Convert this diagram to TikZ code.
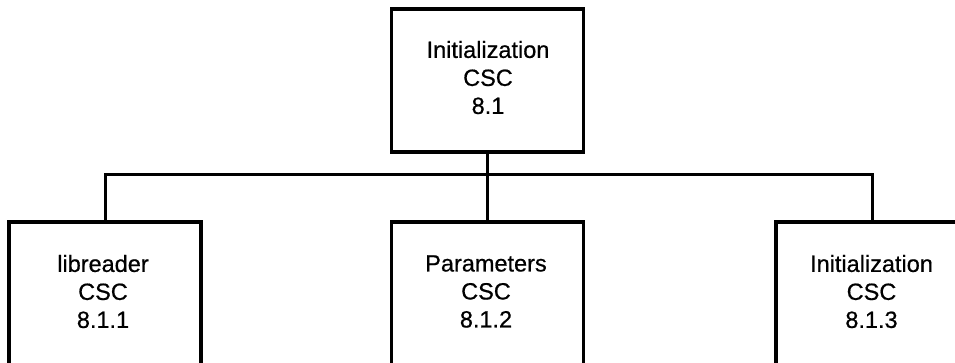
\documentclass[tikz,border=0pt]{standalone}
\usepackage{fontspec}
\setmainfont{Liberation Sans}
\newfontfamily\labelfont[FakeBold=0.6]{Liberation Sans}
\begin{document}
\begin{tikzpicture}[x=1pt,y=-1pt,
  box/.style={draw=black, line width=3.2pt, rectangle, inner sep=0pt, minimum width=192pt},
  txt/.style={align=center, inner sep=0pt, font=\labelfont\fontsize{23.5}{28}\selectfont},
  conn/.style={draw=black, line width=3pt}]
\useasboundingbox (0,0) rectangle (955,362);
\clip (0,0) rectangle (955,362);
\fill[white] (0,0) rectangle (955,362);
% boxes
\node[box, minimum height=143pt] (top) at (487.5,80.5) {};
\node[box, minimum height=200pt] (left) at (105,322) {};
\node[box, minimum height=200pt] (mid) at (487.5,322) {};
\node[box, minimum height=200pt] (right) at (872,322) {};
% texts
\node[txt] (toptxt) at (488,77.5) {Initialization\\CSC\\8.1};
\node[txt] (lefttxt) at (103,291.5) {libreader\\CSC\\8.1.1};
\node[txt] (midtxt) at (486,291.5) {Parameters\\CSC\\8.1.2};
\node[txt] (righttxt) at (871.5,291.5) {Initialization\\CSC\\8.1.3};
% connectors
\coordinate (bus) at (0,174);
\draw[conn] (top.south) -- (mid.north);
\draw[conn] (left.north) -- (left.north |- bus) -- (right.north |- bus) -- (right.north);
\end{tikzpicture}
\end{document}
